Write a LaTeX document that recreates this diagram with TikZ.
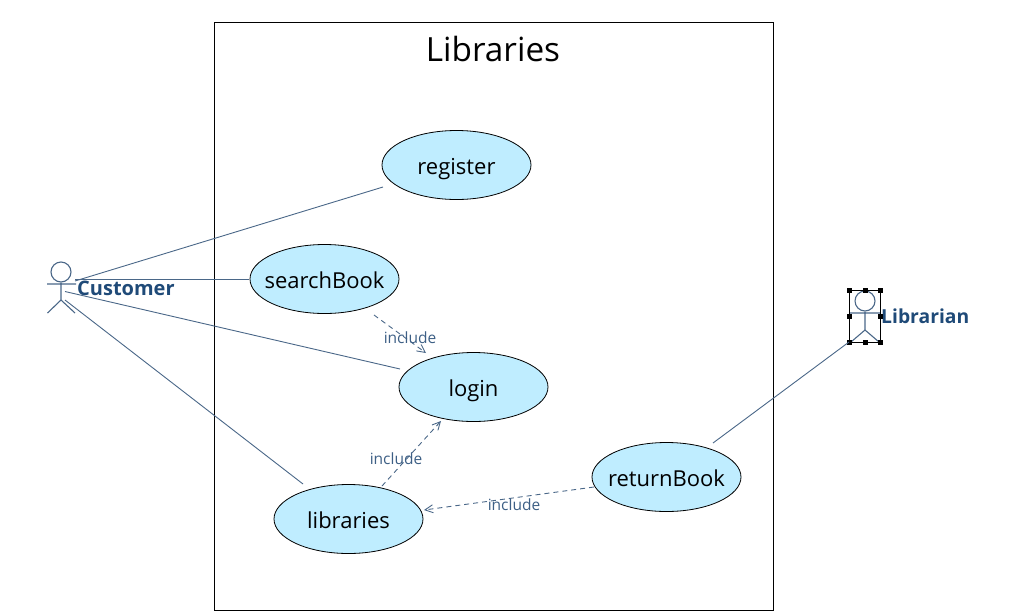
\documentclass[tikz,border=0pt]{standalone}
\usepackage{fontspec}
\setmainfont{Open Sans}
\usetikzlibrary{arrows.meta,shapes.geometric}
\definecolor{linec}{HTML}{4A6788}
\definecolor{fillc}{HTML}{BFEDFF}
\definecolor{namec}{HTML}{1F4A78}
\definecolor{incc}{HTML}{3D5F85}
\tikzset{
 x=1pt,y=-1pt,
 usecase/.style={ellipse,draw=black,line width=0.8pt,fill=fillc,minimum width=149pt,minimum height=69pt,inner sep=0pt},
 uclabel/.style={font=\fontsize{22}{26}\selectfont,inner sep=0pt,text height=16pt,text depth=5pt,yshift=-3.5pt},
 assoc/.style={draw=linec,line width=0.9pt},
 dep/.style={draw=linec,line width=0.9pt,dash pattern=on 5pt off 4pt,-{Straight Barb[length=8pt,width=8pt,line width=0.9pt]}},
 inc/.style={text=incc,font=\fontsize{15.5}{18}\selectfont,inner sep=0pt},
 actorname/.style={text=namec,font=\bfseries\fontsize{20}{24}\selectfont,inner sep=0pt,anchor=west},
 actorline/.style={draw=linec,line width=1.1pt},
 handle/.style={fill=black,draw=none,minimum size=5pt,inner sep=0pt},
}
\begin{document}
\begin{tikzpicture}
\useasboundingbox (0,0) rectangle (1027,611);
\node[draw=black,line width=0.8pt,minimum width=559pt,minimum height=588pt,inner sep=0pt] (sys) at (493.5,316) {};
\node[font=\fontsize{33.3}{40}\selectfont,inner sep=0pt] (title) at (493,49.5) {Libraries};

\node[usecase,label={[uclabel]center:register}] (register) at (456.5,165) {};
\node[usecase,label={[uclabel]center:searchBook}] (search) at (324.5,279) {};
\node[usecase,label={[uclabel]center:login}] (login) at (473.5,387) {};
\node[usecase,label={[uclabel]center:libraries}] (libs) at (348.5,519) {};
\node[usecase,label={[uclabel]center:returnBook}] (return) at (666.5,477) {};

% Customer actor
\node[circle,draw=linec,line width=1.1pt,minimum size=20pt,inner sep=0pt] (chead) at (61,272) {};
\coordinate (chip) at (61,300);
\coordinate (carmL) at (47,284);
\coordinate (carmR) at (76,284);
\coordinate (clegL) at (47.5,313);
\coordinate (clegR) at (75,313);
\draw[actorline] (chead.south) -- (chip) (carmL) -- (carmR) (clegL) -- (chip) -- (clegR);
\node[actorname] (customer) at (77,288.5) {Customer};

% Librarian actor
\node[circle,draw=linec,line width=1.1pt,minimum size=20pt,inner sep=0pt] (lhead) at (865,301) {};
\coordinate (lhip) at (865,330);
\coordinate (larmL) at (850,313);
\coordinate (larmR) at (880,313);
\coordinate (llegL) at (851,342);
\coordinate (llegR) at (879,342);
\draw[actorline] (lhead.south) -- (lhip) (larmL) -- (larmR) (llegL) -- (lhip) -- (llegR);
\node[actorname,font=\bfseries\fontsize{19.3}{23}\selectfont] (librarian) at (881,316.5) {Librarian};

% Selection box
\node[draw=black,line width=0.8pt,minimum width=31pt,minimum height=52pt,inner sep=0pt] (sel) at (865,316.5) {};
\foreach \a in {north west,north,north east,west,east,south west,south,south east}
  \node[handle] at (sel.\a) {};

% Association ends
\coordinate (c1) at (75,281);
\coordinate (c2) at (75,279);
\coordinate (c3) at (65,291.5);
\coordinate (c4) at (65,300);
\coordinate (r1) at (383,187);
\coordinate (s1) at (249,279);
\coordinate (l1) at (400,369);
\coordinate (b1) at (303,484);
\coordinate (l2) at (849,342);
\coordinate (t1) at (713,443);
\draw[assoc] (c1) -- (r1);
\draw[assoc] (c2) -- (s1);
\draw[assoc] (c3) -- (l1);
\draw[assoc] (c4) -- (b1);
\draw[assoc] (l2) -- (t1);

% Include dependencies
\coordinate (d1s) at (374,315);
\coordinate (d1e) at (426,353);
\coordinate (d2s) at (382,486);
\coordinate (d2e) at (441,421);
\coordinate (d3s) at (594,487);
\coordinate (d3e) at (424,510);
\draw[dep] (d1s) -- (d1e);
\draw[dep] (d2s) -- (d2e);
\draw[dep] (d3s) -- (d3e);
\node[inc] (i1) at (410,337.5) {include};
\node[inc] (i2) at (396,458.5) {include};
\node[inc] (i3) at (514,504.5) {include};
\end{tikzpicture}
\end{document}
